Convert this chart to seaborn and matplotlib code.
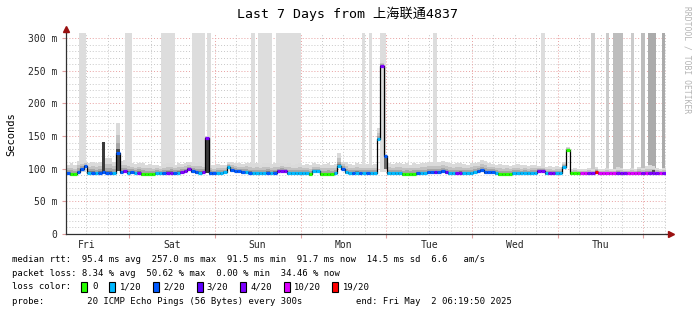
import numpy as np
import pandas as pd
import matplotlib
matplotlib.use("Agg")
import matplotlib.pyplot as plt
import seaborn as sns
from matplotlib.patches import Rectangle

sns.set_theme(style="white")
plt.rcParams["font.family"] = ["DejaVu Sans Mono", "Noto Sans CJK SC"]

# ---------------- data (hourly, from Fri 06:20 to next Fri 06:20) ----------------
median_ms = [
    93, 92, 92, 95, 100, 104, 94, 94, 93, 94, 95, 94,
    94, 93, 124, 95, 96, 94, 95, 94, 94, 92, 92, 92,
    92, 93, 93, 93, 94, 94, 93, 94, 95, 96, 99, 96,
    95, 94, 95, 147, 93, 93, 93, 93, 95, 103, 98, 97,
    96, 95, 95, 94, 93, 93, 93, 93, 94, 93, 94, 96,
    97, 96, 93, 93, 93, 93, 93, 93, 92, 96, 96, 92,
    92, 92, 92, 93, 104, 100, 95, 94, 93, 94, 93, 94,
    94, 93, 93, 145, 257, 119, 93, 93, 93, 93, 92, 92,
    92, 92, 93, 93, 93, 95, 95, 95, 95, 96, 95, 93,
    93, 93, 94, 93, 93, 93, 95, 97, 98, 95, 95, 95,
    93, 92, 92, 92, 92, 93, 93, 93, 94, 93, 93, 94,
    97, 97, 93, 93, 93, 93, 93, 103, 128, 93, 93, 93,
    93, 93, 93, 93, 95, 93, 93, 93, 93, 93, 93, 93,
    93, 93, 93, 93, 93, 93, 93, 93, 94, 93, 93, 93,
]
loss_count = [
    2, 0, 0, 2, 2, 2, 1, 2, 1, 2, 2, 2,
    2, 1, 2, 2, 4, 1, 2, 1, 4, 0, 0, 0,
    0, 1, 1, 2, 4, 4, 2, 1, 4, 4, 4, 2,
    2, 1, 4, 4, 2, 2, 1, 1, 1, 1, 2, 2,
    2, 2, 1, 2, 1, 1, 1, 1, 2, 1, 2, 4,
    4, 4, 1, 1, 1, 1, 1, 1, 0, 1, 1, 0,
    0, 0, 0, 1, 1, 2, 1, 1, 2, 1, 2, 1,
    2, 1, 1, 1, 4, 2, 1, 1, 1, 1, 0, 0,
    0, 0, 2, 1, 1, 2, 2, 3, 2, 2, 3, 1,
    1, 4, 4, 1, 1, 1, 1, 2, 2, 2, 2, 2,
    1, 0, 0, 0, 0, 1, 1, 1, 1, 1, 1, 1,
    4, 4, 1, 4, 4, 1, 1, 1, 0, 0, 0, 0,
    10, 10, 4, 4, 19, 10, 10, 10, 10, 10, 4, 4,
    4, 10, 10, 10, 10, 4, 10, 4, 4, 4, 10, 4,
]
smoke_top_ms = [
    106, 108, 105, 112, 113, 111, 109, 111, 108, 110, 112, 117,
    116, 111, 170, 112, 113, 110, 108, 107, 109, 108, 106, 107,
    105, 106, 104, 107, 108, 109, 106, 108, 107, 109, 111, 110,
    109, 110, 108, 150, 106, 105, 107, 106, 106, 110, 111, 109,
    108, 107, 109, 108, 107, 108, 106, 108, 109, 107, 108, 108,
    109, 107, 108, 106, 107, 108, 106, 107, 105, 108, 107, 106,
    107, 108, 106, 107, 124, 111, 110, 107, 106, 108, 107, 106,
    107, 106, 107, 162, 266, 122, 108, 107, 109, 108, 107, 108,
    106, 108, 107, 109, 108, 110, 111, 109, 110, 112, 110, 108,
    107, 109, 108, 107, 106, 108, 109, 110, 113, 112, 108, 107,
    106, 107, 105, 106, 104, 106, 107, 105, 106, 104, 106, 105,
    104, 105, 103, 104, 102, 104, 103, 110, 133, 100, 101, 99,
    100, 99, 101, 100, 102, 99, 100, 101, 99, 100, 102, 101,
    100, 99, 101, 100, 103, 101, 104, 105, 104, 101, 100, 101,
]
# dense dark smoke columns (hour, low, high)
dark_hour = [10, 14, 39, 89, 164]
dark_low = [94, 96, 94, 100, 93]
dark_high = [141, 130, 147, 119, 98]
# full-height loss spill columns (start hour, end hour, intensity)
spill_start = [3.7, 16.6, 26.7, 35.4, 39.6, 51.7, 53.7, 58.7, 82.9, 84.8, 87.9,
               102.8, 132.9, 146.9, 151.1, 153.1, 158.1, 160.9, 162.9, 167.0]
spill_end = [5.6, 18.5, 30.6, 38.8, 40.7, 52.8, 57.6, 65.7, 83.7, 85.7, 89.6,
             103.9, 134.0, 148.0, 152.0, 155.9, 159.0, 162.0, 165.2, 167.8]
spill_level = [1, 1, 1, 1, 1, 1, 1, 1, 1, 1, 1, 1, 1, 2, 2, 3, 2, 3, 4, 4]

day_names = ["Fri", "Sat", "Sun", "Mon", "Tue", "Wed", "Thu"]
start_hour_of_day = 6.33  # graph starts 06:20

loss_levels = [0, 1, 2, 3, 4, 10, 19]
loss_labels = ["0", "1/20", "2/20", "3/20", "4/20", "10/20", "19/20"]
loss_colors = ["#26ff00", "#00b8ff", "#0059ff", "#5e00ff", "#7e00ff", "#dd00ff", "#ff0000"]

legend_lines = [
    "median rtt:  95.4 ms avg  257.0 ms max  91.5 ms min  91.7 ms now  14.5 ms sd  6.6   am/s",
    "packet loss: 8.34 % avg  50.62 % max  0.00 % min  34.46 % now",
    "loss color:",
    "probe:        20 ICMP Echo Pings (56 Bytes) every 300s",
]
end_text = "end: Fri May  2 06:19:50 2025"
title = "Last 7 Days from 上海联通4837"

# ---------------- figure ----------------
W, H = 697, 315
fig = plt.figure(figsize=(W / 100, H / 100), dpi=100)
fig.patch.set_facecolor("white")
ax = fig.add_axes([66 / W, (H - 234) / H, 600 / W, 201 / H])
ax.set_facecolor("white")
YTOP = 307.8
ax.set_xlim(0, 168)
ax.set_ylim(0, YTOP)

hours = np.arange(len(median_ms))
med = np.array(median_ms, dtype=float)
top = np.array(smoke_top_ms, dtype=float)

# grid
for v in range(10, 310, 10):
    if v % 50 == 0:
        ax.axhline(v, color="#e8a0a0", lw=0.7, ls=(0, (1, 2)), zorder=0.5)
    else:
        ax.axhline(v, color="#c8c8c8", lw=0.7, ls=(0, (1, 2)), zorder=0.4)
first_mid = 24 - start_hour_of_day
t = first_mid % 6
while t < 168:
    if abs(((t - first_mid) / 24) - round((t - first_mid) / 24)) < 1e-6:
        ax.axvline(t, color="#e8a0a0", lw=0.7, ls=(0, (1, 2)), zorder=0.5)
    else:
        ax.axvline(t, color="#c8c8c8", lw=0.7, ls=(0, (1, 2)), zorder=0.4)
    t += 6

# spill columns
spill_cols = {1: "#dddddd", 2: "#cbcbcb", 3: "#bdbdbd", 4: "#ababab"}
ss = np.array(spill_start)
se = np.array(spill_end)
ax.bar(ss, YTOP - 95, bottom=95, width=se - ss, align="edge",
       color=[spill_cols[l] for l in spill_level], linewidth=0, zorder=1)

# smoke layers
span = top - med
base = med - 2.5
for frac, col in [(1.0, "#dadada"), (0.6, "#c2c2c2"), (0.33, "#a6a6a6"), (0.13, "#7c7c7c")]:
    ax.bar(hours, med + frac * span - base, bottom=base, width=1, align="edge",
           color=col, linewidth=0, zorder=2)
dark_cols = ["#3a3a3a", "#4a4a4a", "#3a3a3a", "#6a6a6a", "#505050"]
ax.bar(dark_hour, np.array(dark_high) - np.array(dark_low), bottom=dark_low, width=1,
       align="edge", color=dark_cols, linewidth=0, zorder=2.5)

# median line (black steps) and loss-coloured segments
df = pd.DataFrame({"hour": hours, "median": med})
sns.lineplot(data=df, x="hour", y="median", drawstyle="steps-post", color="black",
             lw=0.9, ax=ax, zorder=3, legend=False)


def loss_color(n):
    c = loss_colors[0]
    for lv, col in zip(loss_levels, loss_colors):
        if n >= lv:
            c = col
    return c


seg_cols = [loss_color(n) for n in loss_count]
ax.hlines(med, hours, hours + 1, colors=seg_cols, lw=2.3, zorder=4, capstyle="butt")
ax.set_xlabel("")
ax.set_ylabel("")

# ticks
ax.set_yticks(range(0, 301, 50))
ax.set_yticklabels(["0"] + [f"{v} m" for v in range(50, 301, 50)])
ax.tick_params(axis="y", length=3, width=0.8, color="#e0a0a0", pad=3, labelsize=7,
               left=True, direction="out")
noon = [first_mid - 12 + 24 * k for k in range(7)]
ax.set_xticks(noon)
ax.set_xticklabels(day_names)
ax.set_xticks([first_mid + 24 * k for k in range(7)], minor=True)
ax.tick_params(axis="x", which="major", length=0, pad=4, labelsize=7)
ax.tick_params(axis="x", which="minor", length=3, width=0.8, color="#e0a0a0",
               bottom=True, direction="out")

for s in ["top", "right"]:
    ax.spines[s].set_visible(False)
for s in ["left", "bottom"]:
    ax.spines[s].set_color("#303030")
    ax.spines[s].set_linewidth(0.9)
    ax.spines[s].set_zorder(5)

# axis extensions and arrows
ax.plot([0, 0], [1, 1.012], transform=ax.transAxes, color="#303030", lw=0.9, clip_on=False)
ax.plot([1, 1.005], [0, 0], transform=ax.transAxes, color="#303030", lw=0.9, clip_on=False)
ax.plot([0], [1.022], transform=ax.transAxes, marker="^", color="#9a1010", ms=4,
        clip_on=False, zorder=6)
ax.plot([1.009], [0], transform=ax.transAxes, marker=">", color="#9a1010", ms=4,
        clip_on=False, zorder=6)

# texts
fig.text(347.5 / W, 1 - 14 / H, title, ha="center", va="center", fontsize=9.5, color="black")
fig.text(11 / W, 1 - 134 / H, "Seconds", rotation=90, ha="center", va="center",
         fontsize=7.5, color="black")
fig.text(687 / W, 1 - 60 / H, "RRDTOOL / TOBI OETIKER", rotation=270, ha="center",
         va="center", fontsize=5.8, color="#b4b4b4")

line_y = [259.3, 273.3, 286.7, 301.3]
for txt, yy in zip(legend_lines, line_y):
    fig.text(12 / W, 1 - yy / H, txt, ha="left", va="center", fontsize=6.4, color="black")
fig.text(512 / W, 1 - line_y[3] / H, end_text, ha="right", va="center", fontsize=6.4,
         color="black")

sq_x = [81, 109, 152.7, 196.7, 240, 284, 331.7]
lab_x = [92.7, 120, 163.3, 206.7, 250, 294, 342.7]
for xs, xl, col, lab in zip(sq_x, lab_x, loss_colors, loss_labels):
    fig.add_artist(Rectangle((xs / W, (H - 291.5) / H), 6 / W, 10 / H,
                             transform=fig.transFigure, facecolor=col,
                             edgecolor="black", lw=0.8))
    fig.text(xl / W, 1 - line_y[2] / H, lab, ha="left", va="center", fontsize=6.4,
             color="black")

fig.savefig("out.png", dpi=100, facecolor="white")
